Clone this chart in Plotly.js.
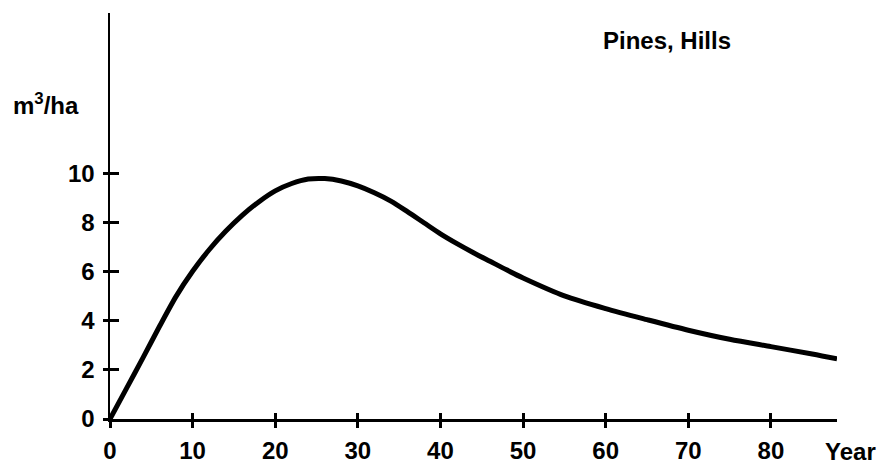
<!DOCTYPE html>
<html>
<head>
<meta charset="utf-8">
<script src="https://cdn.plot.ly/plotly-3.0.1.min.js"></script>
<style>html,body{margin:0;padding:0;background:#fff;}#chart{width:892px;height:470px;}</style>
</head>
<body>
<div id="chart"></div>
<script>
const years = [0,2,4,6,8,10,12,14,16,18,20,22,24,26,28,30,32,34,36,38,40,42,44,46,48,50,55,60,65,70,75,80,85,88];
const volume = [0,1.25,2.5,3.78,5.0,6.02,6.9,7.65,8.3,8.85,9.3,9.6,9.78,9.8,9.7,9.5,9.22,8.88,8.45,8.0,7.55,7.15,6.78,6.43,6.08,5.75,5.02,4.5,4.05,3.62,3.25,2.95,2.65,2.45];
const xTicks = [0,10,20,30,40,50,60,70,80];
const yTicks = [0,2,4,6,8,10];
const chartTitle = "Pines, Hills";
const yLabel = "m<sup>3</sup>/ha";
const xLabel = "Year";

const font = {family: "Liberation Sans, Arial, sans-serif", size: 24, color: "#000", weight: "bold"};

const trace = {
  x: years, y: volume, type: "scatter", mode: "lines",
  line: {color: "#000", width: 5, shape: "spline", smoothing: 0.8},
  hoverinfo: "skip"
};
const overlayTrace = {x: [0], y: [0], xaxis: "x2", yaxis: "y2", mode: "markers", marker: {opacity: 0}, hoverinfo: "skip", showlegend: false};

const layout = {
  width: 892, height: 470,
  margin: {l: 110, r: 55, t: 13, b: 51},
  paper_bgcolor: "#fff", plot_bgcolor: "#fff",
  showlegend: false,
  font: font,
  xaxis: {
    range: [0, 88], tickvals: xTicks, ticktext: xTicks.map(String),
    showgrid: false, zeroline: false, showline: true, linecolor: "#000", linewidth: 2.5,
    ticks: "outside", ticklen: 6, tickwidth: 3, tickcolor: "#000",
    ticklabelstandoff: 3, tickfont: font
  },
  yaxis: {
    range: [0, 16.55], tickvals: yTicks, ticktext: yTicks.map(String),
    showgrid: false, zeroline: false, showline: true, linecolor: "#000", linewidth: 2.5,
    ticks: "outside", ticklen: 5, tickwidth: 3, tickcolor: "#000",
    ticklabelstandoff: 3, tickfont: font
  },
  xaxis2: {overlaying: "x", matches: "x", range: [0, 88], tickvals: xTicks, showticklabels: false, showgrid: false, zeroline: false, showline: false, ticks: "inside", ticklen: 6, tickwidth: 3, tickcolor: "#000"},
  yaxis2: {overlaying: "y", matches: "y", range: [0, 16.55], tickvals: yTicks, showticklabels: false, showgrid: false, zeroline: false, showline: false, ticks: "inside", ticklen: 9, tickwidth: 3, tickcolor: "#000"},
  annotations: [
    {text: chartTitle, xref: "paper", yref: "paper", x: 0.676, y: 0.933, xanchor: "left", yanchor: "middle", showarrow: false, font: font},
    {text: yLabel, xref: "paper", yref: "paper", x: -0.136, y: 0.775, xanchor: "left", yanchor: "middle", showarrow: false, font: font},
    {text: xLabel, xref: "paper", yref: "paper", x: 0.981, y: -0.08, xanchor: "left", yanchor: "middle", showarrow: false, font: font}
  ]
};

Plotly.newPlot("chart", [trace, overlayTrace], layout, {staticPlot: true, displayModeBar: false});
</script>
</body>
</html>
